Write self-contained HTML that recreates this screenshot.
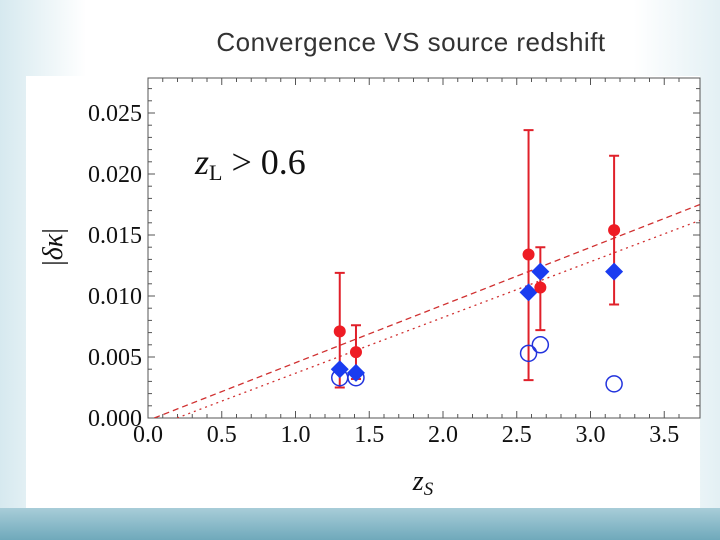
<!DOCTYPE html>
<html><head><meta charset="utf-8"><style>
body{margin:0;width:720px;height:540px;overflow:hidden;font-family:"Liberation Sans",sans-serif;}
#bg{position:absolute;left:0;top:0;width:720px;height:540px;background:linear-gradient(90deg,#d6e9ef 0%,#ffffff 12%,#ffffff 88%,#e3f0f4 100%);}
#strip{position:absolute;left:0;top:508px;width:720px;height:32px;background:linear-gradient(180deg,#a8cdd8,#6fa9bb);}
#title{position:absolute;left:0;width:822px;top:27px;text-align:center;font-size:26px;letter-spacing:0.5px;color:#333;}
</style></head><body>
<div id="bg"></div>
<div id="strip"></div>
<div id="title">Convergence VS source redshift</div>
<svg id="chart" width="720" height="540" style="position:absolute;left:0;top:0">
<rect x="26" y="76" width="674" height="432" fill="#fff"/>
</svg>
<script>
const xTicks=[0,0.5,1.0,1.5,2.0,2.5,3.0,3.5];
const yTicks=[0,0.005,0.010,0.015,0.020,0.025];
const zs=[1.30,1.41,2.58,2.66,3.16];
const redVals=[0.0071,0.0054,0.0134,0.0107,0.0154];
const redLo=[0.0025,0.0032,0.0031,0.0072,0.0093];
const redHi=[0.0119,0.0076,0.0236,0.0140,0.0215];
const blueVals=[0.0040,0.0037,0.0103,0.0120,0.0120];
const openVals=[0.0033,0.0033,0.0053,0.0060,0.0028];
const dashFit=[-0.0002,0.00473];
const dotFit=[-0.0009,0.00457];
const L=148,R=700,T=78,B=418;
const X=v=>L+v*147.5, Y=v=>B-v*12200;
const s=document.getElementById('chart'),NS='http://www.w3.org/2000/svg';
function mk(t,a,p){const e=document.createElementNS(NS,t);for(const k in a)e.setAttribute(k,a[k]);(p||s).appendChild(e);return e;}
const f=mk('rect',{x:L,y:T,width:R-L,height:B-T,fill:'none',stroke:'#555','stroke-width':1});


for(let v=0;v<=3.7;v+=0.1){const x=X(v),big=Math.abs(v*2-Math.round(v*2))<0.01;
mk('line',{x1:x,x2:x,y1:B,y2:B-(big?7:4),stroke:'#555'});mk('line',{x1:x,x2:x,y1:T,y2:T+(big?7:4),stroke:'#555'});}
for(let v=0;v<=0.0275;v+=0.001){const y=Y(v),big=Math.round(v*1000)%5==0;
mk('line',{x1:L,x2:L+(big?7:4),y1:y,y2:y,stroke:'#555'});mk('line',{x1:R,x2:R-(big?7:4),y1:y,y2:y,stroke:'#555'});}
xTicks.forEach(v=>{const t=mk('text',{x:X(v),y:B+24,'text-anchor':'middle','font-family':'Liberation Serif,serif','font-size':24,fill:'#111'});t.textContent=v.toFixed(1);

});
yTicks.forEach(v=>{const t=mk('text',{x:L-6,y:Y(v)+8,'text-anchor':'end','font-family':'Liberation Serif,serif','font-size':24,fill:'#111'});t.textContent=v.toFixed(3);

});
const xt=mk('text',{x:423,y:490,'text-anchor':'middle','font-family':'Liberation Serif,serif','font-size':28,'font-style':'italic',fill:'#111'});xt.innerHTML='z<tspan font-size="19" dy="5">S</tspan>';


const yt=mk('text',{x:0,y:0,transform:'translate(62,247) rotate(-90)','text-anchor':'middle','font-family':'Liberation Serif,serif','font-size':28,fill:'#111'});yt.innerHTML='|<tspan font-style="italic">δκ</tspan>|';


const an=mk('text',{x:195,y:174,'font-family':'Liberation Serif,serif','font-size':36,fill:'#111'});an.innerHTML='<tspan font-style="italic">z</tspan><tspan font-size="22" dy="6">L</tspan><tspan dy="-6"> &gt; 0.6</tspan>';


const cp=mk('clipPath',{id:'cp'});mk('rect',{x:L,y:T,width:R-L,height:B-T},cp);
function fit(c,d,name){const x0=Math.max(0,-c[0]/c[1]);const l=mk('line',{x1:X(x0),y1:Y(c[0]+c[1]*x0),x2:X(3.74),y2:Y(c[0]+c[1]*3.74),stroke:'#d03030','stroke-width':1.3,'stroke-dasharray':d,'clip-path':'url(#cp)'});

}
fit(dashFit,'6,4','dashed-fit-line');fit(dotFit,'2,4','dotted-fit-line');
zs.forEach((z,i)=>{const x=X(z);
const e=mk('path',{d:`M${x},${Y(redLo[i])}V${Y(redHi[i])}M${x-5},${Y(redLo[i])}h10M${x-5},${Y(redHi[i])}h10`,stroke:'#e0202a','stroke-width':2,fill:'none'});


const o=mk('circle',{cx:x,cy:Y(openVals[i]),r:8,fill:'none',stroke:'#2233dd','stroke-width':1.5});


const r=mk('circle',{cx:x,cy:Y(redVals[i]),r:6,fill:'#ee1c24'});


const yb=Y(blueVals[i]);const b=mk('path',{d:`M${x},${yb-9}L${x+9},${yb}L${x},${yb+9}L${x-9},${yb}Z`,fill:'#1a3cf0'});

});
</script>
</body></html>
